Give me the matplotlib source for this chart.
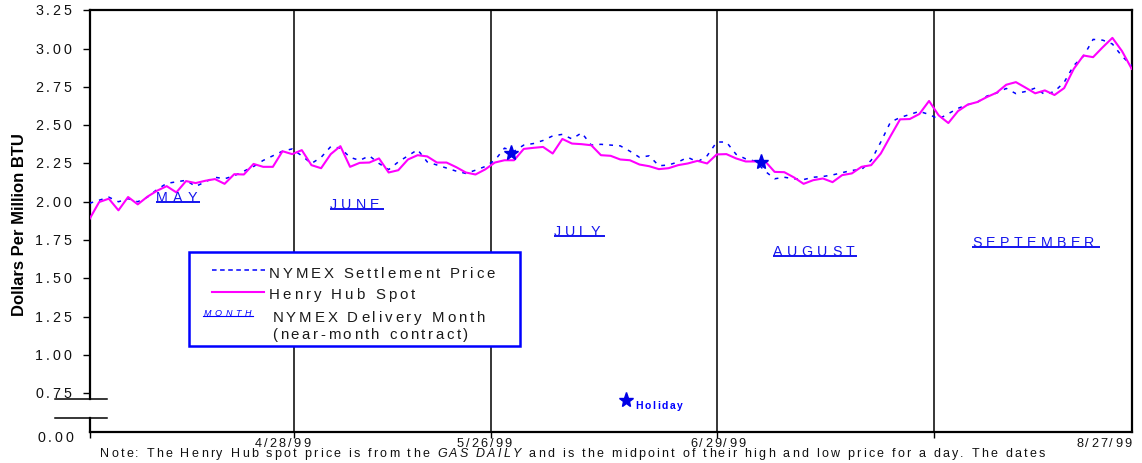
import matplotlib
matplotlib.use("Agg")
import matplotlib.pyplot as plt
import matplotlib.transforms as mtransforms
from matplotlib.font_manager import FontProperties
from matplotlib.lines import Line2D
from matplotlib.patches import Rectangle

# ---------------------------------------------------------------- data
# Daily prices, $/MMBtu (one value per trading-day slot on the x axis)
henry_hub = [
    1.887, 1.998, 2.020, 1.944, 2.031, 1.983, 2.033, 2.072, 2.102, 2.061,
    2.135, 2.122, 2.137, 2.148, 2.117, 2.180, 2.178, 2.247, 2.228, 2.228,
    2.330, 2.311, 2.337, 2.239, 2.219, 2.311, 2.363, 2.228, 2.254, 2.256,
    2.283, 2.191, 2.206, 2.276, 2.304, 2.296, 2.256, 2.256, 2.226, 2.191,
    2.178, 2.211, 2.256, 2.271, 2.271, 2.345, 2.352, 2.358, 2.315, 2.410,
    2.380, 2.376, 2.369, 2.304, 2.300, 2.276, 2.271, 2.243, 2.232, 2.213,
    2.219, 2.239, 2.250, 2.267, 2.250, 2.309, 2.311, 2.283, 2.263, 2.263,
    2.265, 2.195, 2.193, 2.159, 2.117, 2.141, 2.152, 2.128, 2.174, 2.185,
    2.228, 2.239, 2.315, 2.428, 2.538, 2.540, 2.573, 2.658, 2.564, 2.514,
    2.592, 2.634, 2.651, 2.684, 2.712, 2.764, 2.781, 2.745, 2.708, 2.727,
    2.697, 2.742, 2.868, 2.955, 2.944, 3.009, 3.070, 2.983, 2.868,
]
nymex_settle = [
    1.99, 2.01, 2.03, 2.00, 2.02, 2.00, 2.03, 2.08, 2.12, 2.13,
    2.14, 2.10, 2.13, 2.16, 2.15, 2.17, 2.20, 2.23, 2.27, 2.30,
    2.33, 2.345, 2.30, 2.25, 2.29, 2.36, 2.35, 2.29, 2.27, 2.30,
    2.25, 2.21, 2.26, 2.30, 2.34, 2.26, 2.24, 2.22, 2.20, 2.185,
    2.206, 2.23, 2.27, 2.35, 2.33, 2.37, 2.38, 2.40, 2.43, 2.44,
    2.41, 2.45, 2.37, 2.375, 2.37, 2.365, 2.33, 2.29, 2.30, 2.235,
    2.24, 2.26, 2.29, 2.26, 2.30, 2.39, 2.39, 2.31, 2.28, 2.265,
    2.20, 2.15, 2.16, 2.15, 2.145, 2.16, 2.165, 2.175, 2.19, 2.205,
    2.21, 2.27, 2.39, 2.52, 2.55, 2.57, 2.59, 2.57, 2.54, 2.575,
    2.61, 2.634, 2.65, 2.69, 2.71, 2.74, 2.706, 2.72, 2.742, 2.70,
    2.72, 2.78, 2.89, 2.95, 3.06, 3.055, 3.03, 2.95, 2.89,
]
days = list(range(len(henry_hub)))

# contract expiration days (vertical separators) and the date captions
expiry_pos = [21.2, 41.6, 65.0, 87.5]
date_labels = ["4/28/99", "5/26/99", "6/29/99", "8/27/99"]
date_label_pos = [20.0, 40.9, 65.1, 105.1]

# near-month delivery month captions: left x, baseline price, underline end x
month_names = ["MAY", "JUNE", "JULY", "AUGUST", "SEPTEMBER"]
month_x = [6.9, 24.9, 48.1, 70.8, 91.5]
month_y = [2.000, 1.955, 1.778, 1.646, 1.707]
month_line_end = [11.5, 30.5, 53.4, 79.5, 104.7]
month_widths = [41, 50, 46, 82, 122]

# holidays (no NYMEX trading)
holiday_x = [43.7, 69.6]
holiday_y = [2.32, 2.257]

ytick_vals = [0.75, 1.00, 1.25, 1.50, 1.75, 2.00, 2.25, 2.50, 2.75, 3.00, 3.25]

# ---------------------------------------------------------------- figure
W, H, DPI = 1142, 463, 100
fig = plt.figure(figsize=(W / DPI, H / DPI), dpi=DPI)
ax = fig.add_axes([89.5 / W, 1 - 431.5 / H, 1042.2 / W, 421.2 / H])
renderer = fig.canvas.get_renderer()

FAMILY = ["Liberation Sans", "DejaVu Sans"]
BLUE = "#0000FF"
MONTH_BLUE = "#1414EE"
PINK = "#FF00FF"


def tracked(x, y, runs, size, transform, ha="left", track=0.0, width=None,
            dx=0.0, dy=0.0, color="black", weight="normal", zorder=6):
    """Draw text with extra letter spacing (tracking), char by char."""
    if isinstance(runs, str):
        runs = [(runs, "normal")]
    chars = []
    for s, style in runs:
        fp = FontProperties(family=FAMILY, size=size, weight=weight, style=style)
        ref = renderer.get_text_width_height_descent("|", fp, ismath=False)[0]
        for c in s:
            adv = renderer.get_text_width_height_descent(c + "|", fp, ismath=False)[0] - ref
            chars.append((c, fp, adv))
    base = sum(a for _, _, a in chars)
    n = len(chars)
    gap = (width - base) / (n - 1) if width is not None else track * DPI / 72
    total = base + gap * (n - 1)
    pos = {"left": 0.0, "center": -total / 2, "right": -total}[ha] + dx
    for c, fp, adv in chars:
        if c != " ":
            t = transform + mtransforms.Affine2D().translate(pos, dy)
            fig.text(x, y, c, transform=t, fontproperties=fp, color=color,
                     ha="left", va="baseline", zorder=zorder)
        pos += adv + gap
    return total


# ---------------------------------------------------------------- series
for p in expiry_pos:
    ax.axvline(p, color="black", lw=1.1, zorder=2)

ax.plot(days, nymex_settle, color=BLUE, lw=1.1, dashes=(2.5, 4), zorder=3)
ax.plot(days, henry_hub, color=PINK, lw=1.5, zorder=4)
ax.plot(holiday_x, holiday_y, ls="none", marker="*", ms=11, color="#0000E6",
        zorder=5)

ax.set_xlim(0, 108)
ax.set_ylim(0.5, 3.25)

# ---------------------------------------------------------------- axes frame
for side in ["left", "right", "top", "bottom"]:
    ax.spines[side].set_linewidth(1.6)
    ax.spines[side].set_color("black")
ax.spines["left"].set_bounds(0.712, 3.25)
yax = ax.get_yaxis_transform()
ax.add_line(Line2D([0, 0], [0.5, 0.585], transform=yax, lw=1.6,
                   color="black", clip_on=False))
# axis-break marks
for yb in (0.712, 0.585):
    ax.add_line(Line2D([-0.0331, 0.0168], [yb, yb], transform=yax, lw=1.1,
                       color="black", clip_on=False))

ax.set_yticks(ytick_vals)
ax.set_yticklabels([])
ax.set_xticks([0] + expiry_pos)
ax.set_xticklabels([])
ax.tick_params(axis="y", direction="out", length=5, width=1.0, color="black")
ax.tick_params(axis="x", direction="out", length=4, width=1.0, color="black")

TXT = "#111111"
for v in ytick_vals:
    tracked(0, v, f"{v:.2f}", 10.3, yax, ha="right", width=36, dx=-18.5,
            dy=-5.0, color=TXT)
tracked(0, 0.5, "0.00", 10.3, yax, ha="right", width=36, dx=-16.5, dy=-11.0,
        color=TXT)

xax = ax.get_xaxis_transform()
for pos, lab in zip(date_label_pos, date_labels):
    tracked(pos, 0, lab, 9.2, xax, ha="center", width=55, dy=-15.5, color=TXT)

fig.text(20 / W, 1 - 224.2 / H, "Dollars Per Million BTU", rotation=90,
         ha="center", va="center", fontsize=12, fontweight="bold",
         family=FAMILY)

# ---------------------------------------------------------------- month captions
for name, mx, my, mend, mw in zip(month_names, month_x, month_y,
                                  month_line_end, month_widths):
    tracked(mx, my, name, 10.3, ax.transData, width=mw, color=MONTH_BLUE)
    ax.plot([mx, mend], [my, my], color=MONTH_BLUE, lw=1.4, zorder=5,
            solid_capstyle="butt")

# holiday key
ax.plot([55.6], [0.703], ls="none", marker="*", ms=11, color="#0000E6",
        clip_on=False, zorder=5)
tracked(56.6, 0.644, "Holiday", 7.5, ax.transData, width=47, color=BLUE,
        weight="bold")

# ---------------------------------------------------------------- legend
ax.add_patch(Rectangle((0.0955, 0.2031), 0.3176, 0.2233, transform=ax.transAxes,
                       facecolor="white", edgecolor=BLUE, lw=1.8, zorder=7))
ax.add_line(Line2D([0.1173, 0.1684], [0.3834, 0.3834], transform=ax.transAxes,
                   color=BLUE, lw=1.1, dashes=(3, 2.3), zorder=8))
ax.add_line(Line2D([0.1173, 0.1677], [0.3319, 0.3319], transform=ax.transAxes,
                   color=PINK, lw=1.5, zorder=8))
ax.add_line(Line2D([0.1090, 0.1569], [0.2752, 0.2752], transform=ax.transAxes,
                   color=BLUE, lw=0.8, zorder=8))
tracked(0.1092, 0.2745, [("MONTH", "italic")], 6.5, ax.transAxes, width=48,
        color=BLUE)

LEG = "#1a1a1a"
tracked(0.1722, 0.3637, "NYMEX Settlement Price", 10.8, ax.transAxes,
        width=226, color=LEG)
tracked(0.1722, 0.3146, "Henry Hub Spot", 10.8, ax.transAxes, width=146,
        color=LEG)
tracked(0.1754, 0.2607, "NYMEX Delivery Month", 10.8, ax.transAxes, width=213,
        color=LEG)
tracked(0.1754, 0.2189, "(near-month contract)", 10.8, ax.transAxes, width=196,
        color=LEG)

# ---------------------------------------------------------------- footnote
note = [
    ("Note: The Henry Hub spot price is from the ", "normal"),
    ("GAS DAILY", "italic"),
    (" and is the midpoint of their high and low price for a day. The dates",
     "normal"),
]
tracked(100 / W, 1 - 457.3 / H, note, 9.0, fig.transFigure, width=945,
        color=TXT)

fig.savefig("out.png", dpi=DPI)
